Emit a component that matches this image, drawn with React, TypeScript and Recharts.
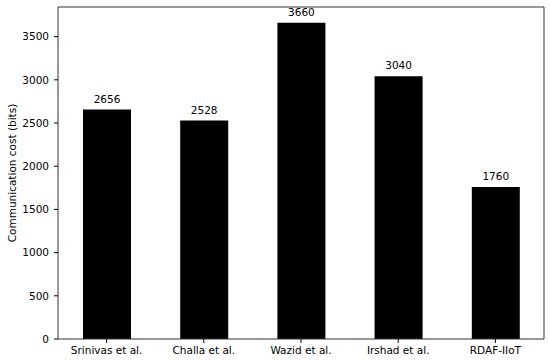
import { BarChart, Bar, XAxis, YAxis, LabelList, ReferenceLine } from 'recharts';

const schemes = ['Srinivas et al.', 'Challa et al.', 'Wazid et al.', 'Irshad et al.', 'RDAF-IIoT'];
const costBits = [2656, 2528, 3660, 3040, 1760];
const yTicks = [0, 500, 1000, 1500, 2000, 2500, 3000, 3500];
const xTicks = [0, 1, 2, 3, 4];

const data = schemes.map((name, i) => ({ idx: i, name, cost: costBits[i] }));

const FS = 10.5;
const font = { fontFamily: 'DejaVu Sans', fontSize: FS, fill: '#000' };

// rotated y-axis title, placed like matplotlib's ylabel
const YTitle = (props: any) => {
  const vb = props.viewBox || {};
  const cx = 12;
  const cy = vb.y + vb.height / 2;
  return (
    <text
      x={cx}
      y={cy}
      transform={`rotate(-90, ${cx}, ${cy})`}
      textAnchor="middle"
      dominantBaseline="central"
      fontFamily="DejaVu Sans"
      fontSize={FS}
      fill="#000"
    >
      Communication cost (bits)
    </text>
  );
};

export default function App() {
  return (
    <div style={{ position: 'absolute', left: 0, top: 0, background: '#fff' }}>
      <BarChart
        width={550}
        height={361}
        data={data}
        margin={{ top: 7, right: 6, bottom: 0, left: 0 }}
      >
        <XAxis
          dataKey="idx"
          type="number"
          domain={[-0.5, 4.5]}
          ticks={xTicks}
          tickFormatter={(v: number) => schemes[v]}
          height={22}
          tick={font}
          tickSize={4}
          tickMargin={4}
          stroke="#000"
          axisLine={{ stroke: '#333' }}
          interval={0}
          allowDataOverflow
        />
        <YAxis
          width={58}
          domain={[0, 3843]}
          ticks={yTicks}
          tick={font}
          tickSize={4}
          tickMargin={5}
          stroke="#000"
          axisLine={{ stroke: '#333' }}
          allowDataOverflow
          label={<YTitle />}
        />
        <ReferenceLine y={3843} stroke="#333" ifOverflow="visible" />
        <ReferenceLine x={4.5} stroke="#333" ifOverflow="visible" />
        <Bar dataKey="cost" fill="#000" barSize={48} isAnimationActive={false}>
          <LabelList dataKey="cost" position="top" offset={7} style={font} />
        </Bar>
      </BarChart>
    </div>
  );
}
